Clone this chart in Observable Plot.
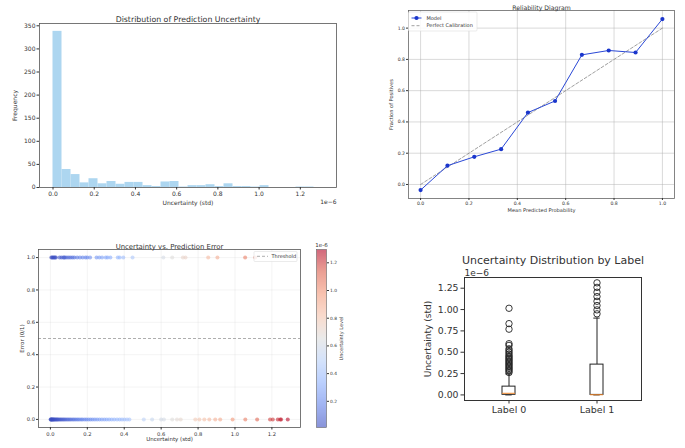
<!DOCTYPE html>
<html><head><meta charset="utf-8">
<script src="https://cdn.jsdelivr.net/npm/d3@7"></script>
<script src="https://cdn.jsdelivr.net/npm/@observablehq/plot@0.6"></script>
<style>
body{margin:0;background:#fff;}
#root{position:relative;width:685px;height:448px;overflow:hidden;font-family:"DejaVu Sans",sans-serif;}
#root svg{position:absolute;overflow:visible;}
</style></head><body><div id="root"></div>
<script>
// ---------- DATA ----------
// Panel 1: histogram of prediction uncertainty (30 bins, units of 1e-6)
const histCounts = [338, 39, 28, 10, 19, 8, 13, 7, 11, 11, 4, 2, 12, 13, 1, 4, 4, 6, 2, 8, 2, 2, 1, 4, 0, 0, 0, 1, 1, 0];
const histMin = 0, histMax = 1.31;
const histXTicks = [0, 0.2, 0.4, 0.6, 0.8, 1.0, 1.2];
const histYTicks = [0, 50, 100, 150, 200, 250, 300, 350];

// Panel 2: reliability diagram
const relX = [0, 0.111, 0.222, 0.333, 0.444, 0.556, 0.667, 0.778, 0.889, 1.0];
const relY = [-0.036, 0.12, 0.177, 0.226, 0.46, 0.534, 0.829, 0.857, 0.844, 1.058];
const calibLine = [0, 1];
const relTicks = [0, 0.2, 0.4, 0.6, 0.8, 1.0];

// Panel 3: uncertainty vs prediction error
const errOneUnc = [0.005, 0.01, 0.015, 0.02, 0.025, 0.03, 0.05, 0.06, 0.07, 0.075, 0.08, 0.09, 0.1, 0.11, 0.12, 0.13, 0.145, 0.16, 0.175, 0.19, 0.2, 0.215, 0.25, 0.265, 0.28, 0.3, 0.31, 0.325, 0.365, 0.375, 0.395, 0.445, 0.612, 0.66, 0.718, 0.732, 0.855, 0.905, 1.055, 1.11];
const errZeroUnc = [0.001, 0.003, 0.006, 0.008, 0.011, 0.014, 0.017, 0.021, 0.025, 0.029, 0.034, 0.038, 0.043, 0.049, 0.055, 0.061, 0.068, 0.074, 0.081, 0.089, 0.096, 0.104, 0.112, 0.121, 0.129, 0.138, 0.147, 0.156, 0.166, 0.175, 0.186, 0.196, 0.207, 0.218, 0.229, 0.241, 0.253, 0.266, 0.279, 0.292, 0.305, 0.318, 0.332, 0.346, 0.361, 0.375, 0.388, 0.401, 0.415, 0.428, 0.506, 0.551, 0.60, 0.615, 0.66, 0.686, 0.706, 0.785, 0.807, 0.834, 0.861, 0.893, 0.92, 0.987, 1.056, 1.12, 1.19, 1.205, 1.232, 1.245, 1.25, 1.286];
const scatterXTicks = [0, 0.2, 0.4, 0.6, 0.8, 1.0, 1.2];
const scatterYTicks = [0, 0.2, 0.4, 0.6, 0.8, 1.0];
const colorTicks = [0.2, 0.4, 0.6, 0.8, 1.0, 1.2];
const colorDomain = [0.011, 1.296];
const thresholdValue = [0.5];
const coolwarm = ["#3b4cc0", "#6282ea", "#8db0fe", "#b8d0f9", "#dddddd", "#f5c4ad", "#f49a7b", "#de604d", "#b40426"];

// Panel 4: boxplot by label
const boxLabels = ["Label 0", "Label 1"];
const boxQ1 = [0.001, 0.0];
const boxMedian = [0.019, 0.002];
const boxQ3 = [0.097, 0.355];
const boxWhiskerLo = [0.0, 0.0];
const boxWhiskerHi = [0.246, 0.90];
const outliers0 = [0.262, 0.28, 0.295, 0.31, 0.325, 0.34, 0.355, 0.37, 0.385, 0.40, 0.415, 0.43, 0.445, 0.46, 0.48, 0.50, 0.52, 0.54, 0.58, 0.60, 0.77, 0.835, 1.015];
const outliers1 = [0.95, 0.996, 1.047, 1.097, 1.152, 1.203, 1.26, 1.313];
const boxYTicks = [0, 0.25, 0.5, 0.75, 1.0, 1.25];

// ---------- HELPERS ----------
const root = document.getElementById("root");
const FONT = "DejaVu Sans";
const INK = "#333";
function place(el, left, top) { el.style.left = left + "px"; el.style.top = top + "px"; root.appendChild(el); return el; }
const baseStyle = {fontFamily: FONT, color: INK, background: "transparent", overflow: "visible"};

// ---------- PANEL 1 ----------
const binW = (histMax - histMin) / histCounts.length;
const histData = histCounts.map((c, i) => ({x1: histMin + i * binW, x2: histMin + (i + 1) * binW, count: c}));
const p1 = Plot.plot({
  width: 345, height: 222, marginLeft: 39, marginRight: 9, marginTop: 23, marginBottom: 35,
  style: baseStyle,
  x: {domain: [-0.0655, 1.3755]}, y: {domain: [0, 355]},
  marks: [
    Plot.rectY(histData, {x1: "x1", x2: "x2", y: "count", fill: "#add6f0"}),
    Plot.frame({stroke: "#555", strokeWidth: 0.8}),
    Plot.axisX({ticks: histXTicks, tickFormat: ".1f", tickSize: 2.5, tickPadding: 2, fontSize: 6, label: null}),
    Plot.axisY({ticks: histYTicks, tickSize: 2.5, tickPadding: 1.5, fontSize: 6, label: null}),
    Plot.text(["Distribution of Prediction Uncertainty"], {frameAnchor: "top", dy: -7, fontSize: 7.8}),
    Plot.text(["Uncertainty (std)"], {frameAnchor: "bottom", dy: 17, fontSize: 6}),
    Plot.text(["Frequency"], {frameAnchor: "left", dx: -24, rotate: -90, textAnchor: "middle", fontSize: 6}),
    Plot.text(["1e\u22126"], {frameAnchor: "bottom-right", dy: 16, textAnchor: "end", fontSize: 6})
  ]
});
place(p1, 0, 0);

// ---------- PANEL 2 ----------
const relData = relX.map((x, i) => ({x, y: relY[i]}));
const p2 = Plot.plot({
  width: 340, height: 222, marginLeft: 63, marginRight: 11, marginTop: 10, marginBottom: 24,
  style: baseStyle,
  x: {domain: [-0.05, 1.05]}, y: {domain: [-0.0897, 1.1127]},
  marks: [
    Plot.gridX({ticks: relTicks, stroke: "#b0b0b0", strokeOpacity: 0.6, strokeWidth: 0.8}),
    Plot.gridY({ticks: relTicks, stroke: "#b0b0b0", strokeOpacity: 0.6, strokeWidth: 0.8}),
    Plot.line(calibLine, {x: d => d, y: d => d, stroke: "#777", strokeWidth: 0.7, strokeDasharray: "3,2"}),
    Plot.line(relData, {x: "x", y: "y", stroke: "#2a48d6", strokeWidth: 1}),
    Plot.dot(relData, {x: "x", y: "y", fill: "#1a36cc", r: 2.1}),
    Plot.frame({stroke: "#666", strokeWidth: 0.8}),
    Plot.axisX({ticks: relTicks, tickFormat: ".1f", tickSize: 2, tickPadding: 1.5, fontSize: 4.6, label: null}),
    Plot.axisY({ticks: relTicks, tickFormat: ".1f", tickSize: 2, tickPadding: 1.5, fontSize: 4.6, label: null}),
    Plot.text(["Reliability Diagram"], {frameAnchor: "top", dy: -4.5, fontSize: 6.2}),
    Plot.text(["Mean Predicted Probability"], {frameAnchor: "bottom", dy: 13, fontSize: 5.1}),
    Plot.text(["Fraction of Positives"], {frameAnchor: "left", dx: -17, rotate: -90, textAnchor: "middle", fontSize: 5.1})
  ]
});
place(p2, 345, 0);
{
  const g = d3.select(p2).append("g").attr("font-family", FONT).attr("font-size", 5).attr("fill", INK).attr("text-anchor", "start");
  g.append("rect").attr("x", 63.5).attr("y", 12).attr("width", 68.5).attr("height", 19)
    .attr("fill", "white").attr("fill-opacity", 0.85).attr("stroke", "#ddd").attr("stroke-width", 0.6).attr("rx", 1);
  g.append("line").attr("x1", 66.5).attr("x2", 76.5).attr("y1", 18).attr("y2", 18).attr("stroke", "#2a48d6").attr("stroke-width", 1);
  g.append("circle").attr("cx", 71.5).attr("cy", 18).attr("r", 2.1).attr("fill", "#1a36cc");
  g.append("text").attr("x", 81.5).attr("y", 18).attr("dy", "0.35em").text("Model");
  g.append("line").attr("x1", 66.5).attr("x2", 76.5).attr("y1", 25.7).attr("y2", 25.7).attr("stroke", "#777").attr("stroke-width", 0.7).attr("stroke-dasharray", "3,2");
  g.append("text").attr("x", 81.5).attr("y", 25.7).attr("dy", "0.35em").text("Perfect Calibration");
}

// ---------- PANEL 3 ----------
const colorScale = {
  type: "linear",
  domain: coolwarm.map((_, i) => colorDomain[0] + i / (coolwarm.length - 1) * (colorDomain[1] - colorDomain[0])),
  range: coolwarm, interpolate: "rgb", clamp: true
};
const scatterData = [
  ...errZeroUnc.map(u => ({u, e: 0})),
  ...errOneUnc.map(u => ({u, e: 1}))
];
const p3 = Plot.plot({
  width: 300, height: 223, marginLeft: 38, marginRight: 0, marginTop: 24, marginBottom: 21,
  style: baseStyle,
  x: {domain: [-0.0645, 1.355]}, y: {domain: [-0.05, 1.05]},
  color: colorScale,
  marks: [
    Plot.gridX({ticks: scatterXTicks, stroke: "#ccc", strokeOpacity: 0.35, strokeWidth: 0.6}),
    Plot.gridY({ticks: scatterYTicks, stroke: "#ccc", strokeOpacity: 0.35, strokeWidth: 0.6}),
    Plot.dot(scatterData, {x: "u", y: "e", fill: "u", r: 2, fillOpacity: 0.6}),
    Plot.ruleY(thresholdValue, {stroke: "#999", strokeWidth: 0.8, strokeDasharray: "3,2"}),
    Plot.frame({stroke: "#555", strokeWidth: 0.8}),
    Plot.axisX({ticks: scatterXTicks, tickFormat: ".1f", tickSize: 2.5, tickPadding: 2.5, fontSize: 5.2, label: null}),
    Plot.axisY({ticks: scatterYTicks, tickFormat: ".1f", tickSize: 2, tickPadding: 1.5, fontSize: 5.2, label: null}),
    Plot.text(["Uncertainty vs. Prediction Error"], {frameAnchor: "top", dy: -5, fontSize: 6.9}),
    Plot.text(["Uncertainty (std)"], {frameAnchor: "bottom", dy: 13.5, fontSize: 5.5}),
    Plot.text(["Error (0/1)"], {frameAnchor: "left", dx: -16, rotate: -90, textAnchor: "middle", fontSize: 5.5})
  ]
});
place(p3, 0, 225);
{
  const g = d3.select(p3).append("g").attr("font-family", FONT).attr("font-size", 5).attr("fill", INK).attr("text-anchor", "start");
  g.append("rect").attr("x", 254).attr("y", 26.5).attr("width", 43).attr("height", 10)
    .attr("fill", "white").attr("fill-opacity", 0.85).attr("stroke", "#ddd").attr("stroke-width", 0.6).attr("rx", 1);
  g.append("line").attr("x1", 257).attr("x2", 268).attr("y1", 31.3).attr("y2", 31.3).attr("stroke", "#999").attr("stroke-width", 0.8).attr("stroke-dasharray", "3,2");
  g.append("text").attr("x", 271.5).attr("y", 31.3).attr("dy", "0.35em").text("Threshold");
}

// Colorbar
const p3c = Plot.plot({
  width: 60, height: 223, marginLeft: 16, marginRight: 34, marginTop: 24, marginBottom: 21,
  style: baseStyle,
  x: {domain: [0, 1], axis: null}, y: {domain: colorDomain},
  color: colorScale,
  marks: [
    Plot.raster({x1: 0, x2: 1, y1: colorDomain[0], y2: colorDomain[1], width: 1, height: 256, fill: (x, y) => y, imageRendering: "auto", opacity: 0.6}),
    Plot.frame({stroke: "#666", strokeWidth: 0.6}),
    Plot.axisY({ticks: colorTicks, tickFormat: ".1f", anchor: "right", tickSize: 2, tickPadding: 1.5, fontSize: 4.4, label: null}),
    Plot.text(["Uncertainty Level"], {frameAnchor: "right", dx: 15, rotate: -90, textAnchor: "middle", fontSize: 5}),
    Plot.text(["1e-6"], {frameAnchor: "top", dy: -6, fontSize: 5.5})
  ]
});
place(p3c, 300, 225);

// ---------- PANEL 4 ----------
const boxData = boxLabels.map((label, i) => ({label, q1: boxQ1[i], med: boxMedian[i], q3: boxQ3[i], lo: boxWhiskerLo[i], hi: boxWhiskerHi[i]}));
const outData = [
  ...outliers0.map(v => ({label: boxLabels[0], v})),
  ...outliers1.map(v => ({label: boxLabels[1], v}))
];
const p4 = Plot.plot({
  width: 295, height: 208, marginLeft: 74, marginRight: 44, marginTop: 37, marginBottom: 48,
  style: baseStyle,
  x: {type: "band", domain: boxLabels, paddingInner: 0.85, paddingOuter: 0.425},
  y: {domain: [-0.0655, 1.3755]},
  marks: [
    Plot.ruleX(boxData, {x: "label", y1: "q3", y2: "hi", stroke: "#222", strokeWidth: 1}),
    Plot.ruleX(boxData, {x: "label", y1: "lo", y2: "q1", stroke: "#222", strokeWidth: 1}),
    Plot.tickY(boxData, {x: "label", y: "hi", stroke: "#222", strokeWidth: 1, insetLeft: 3.3, insetRight: 3.3}),
    Plot.tickY(boxData, {x: "label", y: "lo", stroke: "#222", strokeWidth: 1, insetLeft: 3.3, insetRight: 3.3}),
    Plot.barY(boxData, {x: "label", y1: "q1", y2: "q3", fill: "white", stroke: "#222", strokeWidth: 1}),
    Plot.tickY(boxData, {x: "label", y: "med", stroke: "#f28a2e", strokeWidth: 1}),
    Plot.dot(outData, {x: "label", y: "v", r: 3.2, stroke: "#222", strokeWidth: 0.9, fill: "none"}),
    Plot.frame({stroke: "#333", strokeWidth: 1}),
    Plot.axisX({tickSize: 3.5, tickPadding: 2.5, fontSize: 9.5, label: null}),
    Plot.axisY({ticks: boxYTicks, tickFormat: ".2f", tickSize: 3.5, tickPadding: 2.5, fontSize: 9.3, label: null}),
    Plot.text(["Uncertainty Distribution by Label"], {frameAnchor: "top", dy: -21, fontSize: 11}),
    Plot.text(["1e\u22126"], {frameAnchor: "top-left", dy: -7.5, textAnchor: "start", fontSize: 9}),
    Plot.text(["Uncertainty (std)"], {frameAnchor: "left", dx: -36, rotate: -90, textAnchor: "middle", fontSize: 9})
  ]
});
place(p4, 390, 240);
</script></body></html>
